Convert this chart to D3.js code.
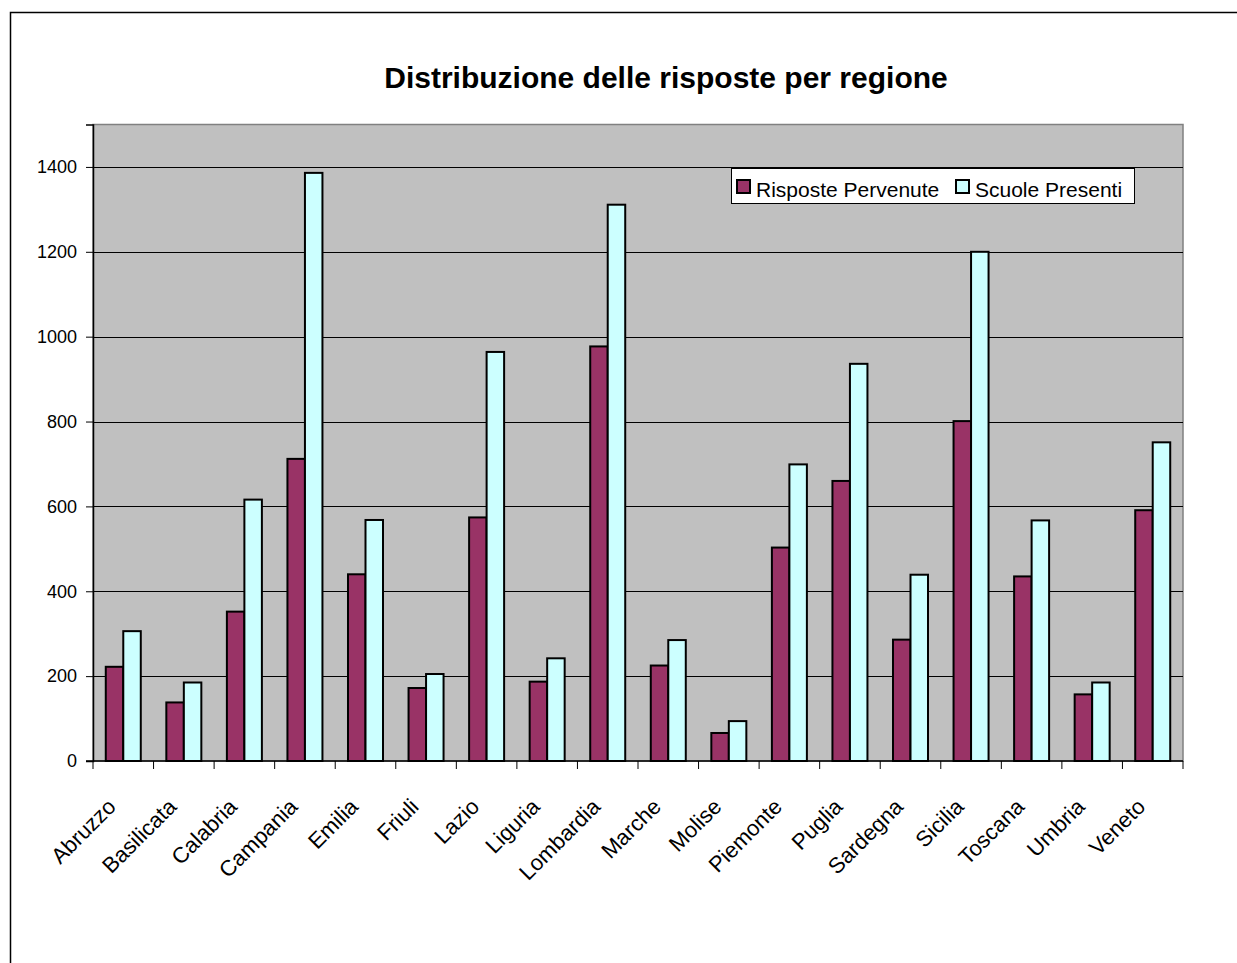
<!DOCTYPE html>
<html lang="it">
<head>
<meta charset="UTF-8">
<title>Distribuzione delle risposte per regione</title>
<script src="https://d3js.org/d3.v7.min.js"></script>
<style>
  body { margin: 0; background: #fff; }
  text { font-family: "Liberation Sans", Arial, sans-serif; fill: #000; }
</style>
</head>
<body>
<div id="chart"></div>
<script>
// Dati
const regioni = ["Abruzzo", "Basilicata", "Calabria", "Campania", "Emilia", "Friuli", "Lazio", "Liguria",
  "Lombardia", "Marche", "Molise", "Piemonte", "Puglia", "Sardegna", "Sicilia", "Toscana", "Umbria", "Veneto"];
const rispostePervenute = [222, 138, 352, 712, 440, 172, 574, 187, 977, 225, 66, 503, 660, 286, 801, 435, 157, 591];
const scuolePresenti = [306, 185, 616, 1386, 568, 205, 964, 242, 1311, 285, 94, 699, 936, 439, 1200, 567, 185, 751];
const serie = ["Risposte Pervenute", "Scuole Presenti"];
const colori = ["#993366", "#CCFFFF"];
const yTicks = [0, 200, 400, 600, 800, 1000, 1200, 1400];

const W = 1237, H = 963;
const plot = {left: 93, top: 124.5, right: 1183, bottom: 761};

const svg = d3.select("#chart").append("svg")
  .attr("width", W)
  .attr("height", H);

// cornice esterna
svg.append("rect")
  .attr("x", 10.5).attr("y", 12.5)
  .attr("width", W + 20).attr("height", H + 20)
  .attr("fill", "#fff")
  .attr("stroke", "#000")
  .attr("stroke-width", 1.5);

// titolo
svg.append("text")
  .attr("x", 666)
  .attr("y", 88)
  .attr("text-anchor", "middle")
  .style("font-size", "30px")
  .style("font-weight", "bold")
  .text("Distribuzione delle risposte per regione");

// scale
const x = d3.scaleBand().domain(regioni).range([plot.left, plot.right]).padding(0);
const xs = d3.scaleBand().domain(serie).range([0, x.bandwidth()]).paddingInner(0).paddingOuter(0.73);
const y = d3.scaleLinear().domain([0, 1500]).range([plot.bottom, plot.top]);

// sfondo area del grafico
svg.append("rect")
  .attr("x", plot.left).attr("y", plot.top)
  .attr("width", plot.right - plot.left)
  .attr("height", plot.bottom - plot.top)
  .attr("fill", "#C0C0C0")
  .attr("stroke", "#808080")
  .attr("stroke-width", 1.5);

// griglia
svg.append("g")
  .selectAll("line")
  .data(yTicks.filter(d => d > 0))
  .enter().append("line")
  .attr("x1", plot.left).attr("x2", plot.right)
  .attr("y1", d => Math.round(y(d)) + 0.5).attr("y2", d => Math.round(y(d)) + 0.5)
  .attr("stroke", "#000")
  .attr("stroke-width", 1);

// barre
const dati = regioni.map((r, i) => ({regione: r, valori: [rispostePervenute[i], scuolePresenti[i]]}));
const gruppi = svg.append("g")
  .selectAll("g")
  .data(dati)
  .enter().append("g")
  .attr("transform", d => `translate(${x(d.regione)},0)`);

gruppi.selectAll("rect")
  .data(d => d.valori.map((v, j) => ({serie: serie[j], valore: v, colore: colori[j]})))
  .enter().append("rect")
  .attr("x", d => xs(d.serie))
  .attr("y", d => y(d.valore))
  .attr("width", xs.bandwidth())
  .attr("height", d => y(0) - y(d.valore))
  .attr("fill", d => d.colore)
  .attr("stroke", "#000")
  .attr("stroke-width", 2);

// asse y
const yAxis = d3.axisLeft(y).tickValues(yTicks).tickSize(7).tickPadding(9).tickFormat(d3.format("d"));
const gy = svg.append("g")
  .attr("transform", `translate(${plot.left},0)`)
  .call(yAxis);
gy.select(".domain").attr("stroke", "#000").attr("stroke-width", 1.5);
gy.selectAll(".tick line").attr("stroke", "#000");
gy.selectAll("text").style("font-size", "18px").style("font-family", "Liberation Sans, Arial, sans-serif");

// asse x: tacche sui confini delle categorie
const confini = regioni.map(r => x(r)).concat([plot.right]);
svg.append("line")
  .attr("x1", plot.left - 7).attr("x2", plot.right)
  .attr("y1", plot.bottom).attr("y2", plot.bottom)
  .attr("stroke", "#000").attr("stroke-width", 1.5);
svg.append("g")
  .selectAll("line")
  .data(confini)
  .enter().append("line")
  .attr("x1", d => d).attr("x2", d => d)
  .attr("y1", plot.bottom).attr("y2", plot.bottom + 8)
  .attr("stroke", "#000").attr("stroke-width", 1);

// etichette ruotate
svg.append("g")
  .selectAll("text")
  .data(regioni)
  .enter().append("text")
  .attr("transform", d => `translate(${x(d) + x.bandwidth() / 2 - 6},${plot.bottom + 47}) rotate(-45)`)
  .attr("text-anchor", "end")
  .style("font-size", "22px")
  .text(d => d);

// legenda
const leg = svg.append("g");
leg.append("rect")
  .attr("x", 731.5).attr("y", 168.5)
  .attr("width", 403).attr("height", 35)
  .attr("fill", "#fff")
  .attr("stroke", "#000").attr("stroke-width", 1);
const legX = [737, 956];
serie.forEach((s, i) => {
  leg.append("rect")
    .attr("x", legX[i]).attr("y", 180)
    .attr("width", 13).attr("height", 13)
    .attr("fill", colori[i])
    .attr("stroke", "#000").attr("stroke-width", 2);
  leg.append("text")
    .attr("x", legX[i] + 19).attr("y", 197)
    .style("font-size", "21px")
    .text(s);
});
</script>
</body>
</html>
